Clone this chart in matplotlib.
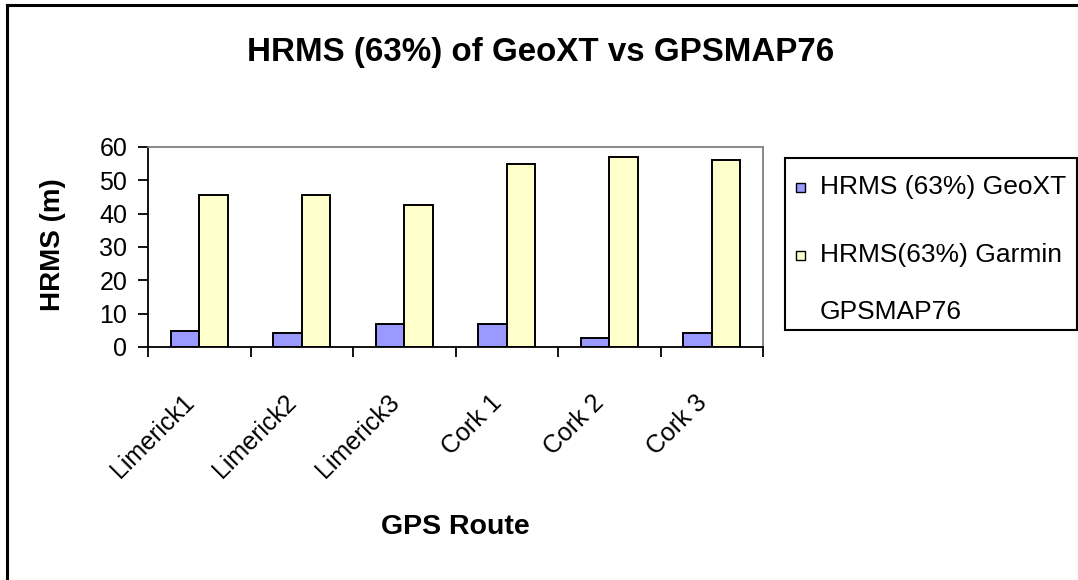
import matplotlib.pyplot as plt
import numpy as np
from matplotlib.patches import Rectangle
from matplotlib.lines import Line2D

plt.rcParams['font.family'] = ['Liberation Sans', 'DejaVu Sans']

routes = ['Limerick1', 'Limerick2', 'Limerick3', 'Cork 1', 'Cork 2', 'Cork 3']
geoxt = [4.8, 4.2, 7.0, 7.0, 2.8, 4.2]
garmin = [45.5, 45.5, 42.7, 54.9, 57.0, 56.2]
series_names = ['HRMS (63%) GeoXT', 'HRMS(63%) Garmin\nGPSMAP76']
series_colors = ['#9999FF', '#FFFFCC']
yticks = [0, 10, 20, 30, 40, 50, 60]

W, H = 1078, 580
fig = plt.figure(figsize=(W / 100, H / 100), dpi=100)


def fx(px):
    return px / W


def fy(py):
    return 1 - py / H


# plot area taken from the reference pixels
ax = fig.add_axes([fx(148), fy(347), fx(763 - 148), (347 - 147) / H])

x = np.arange(len(routes))
bw = 0.28
ax.bar(x - bw / 2, geoxt, bw, color=series_colors[0], edgecolor='black', linewidth=1.4)
ax.bar(x + bw / 2, garmin, bw, color=series_colors[1], edgecolor='black', linewidth=1.4)

ax.set_xlim(-0.5, len(routes) - 0.5)
ax.set_ylim(0, 60)
ax.set_yticks(yticks)
ax.tick_params(axis='y', labelsize=18, length=7, width=1.3, pad=8, direction='out')

# ticks between categories, labels drawn separately at the centres
ax.set_xticks(np.arange(len(routes) + 1) - 0.5)
ax.set_xticklabels([])
ax.tick_params(axis='x', length=7, width=1.3, direction='out')
for i, r in enumerate(routes):
    ax.annotate(r, xy=(i, 0), xycoords=('data', 'axes fraction'),
                xytext=(-12.6, -31), textcoords='offset points',
                rotation=45, ha='right', va='top', rotation_mode='anchor',
                fontsize=18)

for s in ['top', 'right']:
    ax.spines[s].set_color('#808080')
    ax.spines[s].set_linewidth(1.3)
for s in ['left', 'bottom']:
    ax.spines[s].set_color('black')
    ax.spines[s].set_linewidth(1.3)

fig.text(fx(541), fy(52), 'HRMS (63%) of GeoXT vs GPSMAP76',
         ha='center', va='center', fontsize=23.9, fontweight='bold')
fig.text(fx(53), fy(245), 'HRMS (m)', rotation=90,
         ha='center', va='center', fontsize=20, fontweight='bold')
fig.text(fx(455), fy(527), 'GPS Route',
         ha='center', va='center', fontsize=20.5, fontweight='bold')

# legend box drawn by hand so the entry spacing follows the reference
fig.add_artist(Rectangle((fx(785), fy(330)), fx(1077 - 785), (330 - 158) / H,
                         transform=fig.transFigure, facecolor='white',
                         edgecolor='black', linewidth=1.5))
entry_y = [187, 255]
line_pitch = 57
for name, col, yy in zip(series_names, series_colors, entry_y):
    fig.add_artist(Rectangle((fx(796), fy(yy + 4.5)), fx(9), 9 / H,
                             transform=fig.transFigure, facecolor=col,
                             edgecolor='black', linewidth=1.0))
    for k, line in enumerate(name.split('\n')):
        fig.text(fx(820), fy(yy + k * line_pitch), line,
                 ha='left', va='center', fontsize=19)

# outer chart border (only left and top edges fall inside the crop)
fig.add_artist(Line2D([fx(7), fx(7)], [0, fy(5)], color='black', linewidth=2.2))
fig.add_artist(Line2D([fx(7), 1], [fy(5), fy(5)], color='black', linewidth=2.2))

fig.savefig('out.png', dpi=100)
